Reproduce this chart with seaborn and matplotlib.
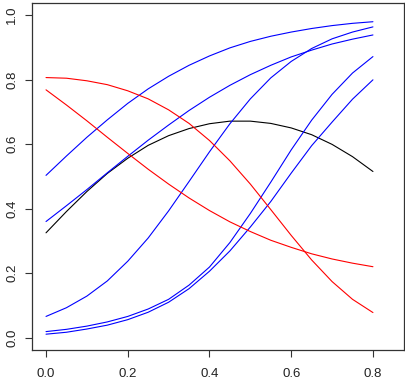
import matplotlib
matplotlib.use("Agg")
import matplotlib.pyplot as plt
import seaborn as sns
import pandas as pd

# x grid
x = [0.00, 0.05, 0.10, 0.15, 0.20, 0.25, 0.30, 0.35, 0.40,
     0.45, 0.50, 0.55, 0.60, 0.65, 0.70, 0.75, 0.80]

black_curve = [0.325, 0.391, 0.453, 0.509, 0.556, 0.596, 0.626, 0.648, 0.663,
               0.671, 0.671, 0.664, 0.650, 0.629, 0.599, 0.561, 0.515]
blue_a = [0.503, 0.563, 0.621, 0.675, 0.726, 0.771, 0.810, 0.844, 0.873,
          0.898, 0.918, 0.934, 0.947, 0.958, 0.967, 0.974, 0.979]
blue_b = [0.360, 0.409, 0.459, 0.511, 0.562, 0.612, 0.659, 0.704, 0.745,
          0.782, 0.815, 0.844, 0.870, 0.891, 0.910, 0.925, 0.938]
blue_c = [0.066, 0.093, 0.129, 0.176, 0.237, 0.309, 0.393, 0.484, 0.576,
          0.663, 0.740, 0.805, 0.856, 0.896, 0.926, 0.947, 0.963]
blue_d = [0.019, 0.026, 0.036, 0.049, 0.066, 0.089, 0.119, 0.163, 0.219,
          0.295, 0.385, 0.482, 0.582, 0.674, 0.754, 0.820, 0.871]
blue_e = [0.011, 0.017, 0.027, 0.039, 0.056, 0.079, 0.110, 0.152, 0.206,
          0.269, 0.343, 0.422, 0.510, 0.595, 0.668, 0.739, 0.799]
red_a = [0.806, 0.804, 0.796, 0.784, 0.765, 0.740, 0.706, 0.664, 0.611,
         0.548, 0.476, 0.397, 0.317, 0.241, 0.174, 0.119, 0.078]
red_b = [0.768, 0.721, 0.672, 0.621, 0.571, 0.522, 0.476, 0.433, 0.394,
         0.359, 0.329, 0.302, 0.280, 0.260, 0.244, 0.231, 0.220]

x_ticks = [0.0, 0.2, 0.4, 0.6, 0.8]
y_ticks = [0.0, 0.2, 0.4, 0.6, 0.8, 1.0]

curves = {
    "black": (black_curve, "#000000"),
    "blue_a": (blue_a, "#0000FF"),
    "blue_b": (blue_b, "#0000FF"),
    "blue_c": (blue_c, "#0000FF"),
    "blue_d": (blue_d, "#0000FF"),
    "blue_e": (blue_e, "#0000FF"),
    "red_a": (red_a, "#FF0000"),
    "red_b": (red_b, "#FF0000"),
}

rows = []
for name, (vals, _) in curves.items():
    for xi, yi in zip(x, vals):
        rows.append({"x": xi, "y": yi, "curve": name})
df = pd.DataFrame(rows)
palette = {name: col for name, (_, col) in curves.items()}

sns.set_theme(style="ticks")
plt.rcParams["font.family"] = ["Liberation Sans", "DejaVu Sans"]

fig = plt.figure(figsize=(4.05, 3.89), dpi=100)
ax = fig.add_axes([32 / 405, 1 - 350 / 389, (404 - 32) / 405, (350 - 3) / 389])

sns.lineplot(data=df, x="x", y="y", hue="curve", palette=palette,
             estimator=None, sort=False, legend=False, linewidth=0.8, ax=ax)

ax.set_xlim(-0.0343, 0.876)
ax.set_ylim(-0.038, 1.037)
ax.set_xticks(x_ticks)
ax.set_xticklabels([f"{v:.1f}" for v in x_ticks])
ax.set_yticks(y_ticks)
ax.set_yticklabels([f"{v:.1f}" for v in y_ticks], rotation=90, va="center")
ax.set_xlabel("")
ax.set_ylabel("")
ax.tick_params(axis="both", direction="out", length=5, width=0.8,
               color="#333333", labelsize=9.5, labelcolor="#222222")
ax.tick_params(axis="x", pad=8)
ax.tick_params(axis="y", pad=5)
for s in ax.spines.values():
    s.set_visible(True)
    s.set_color("#333333")
    s.set_linewidth(0.9)

fig.savefig("out.png", dpi=100, facecolor="white")
